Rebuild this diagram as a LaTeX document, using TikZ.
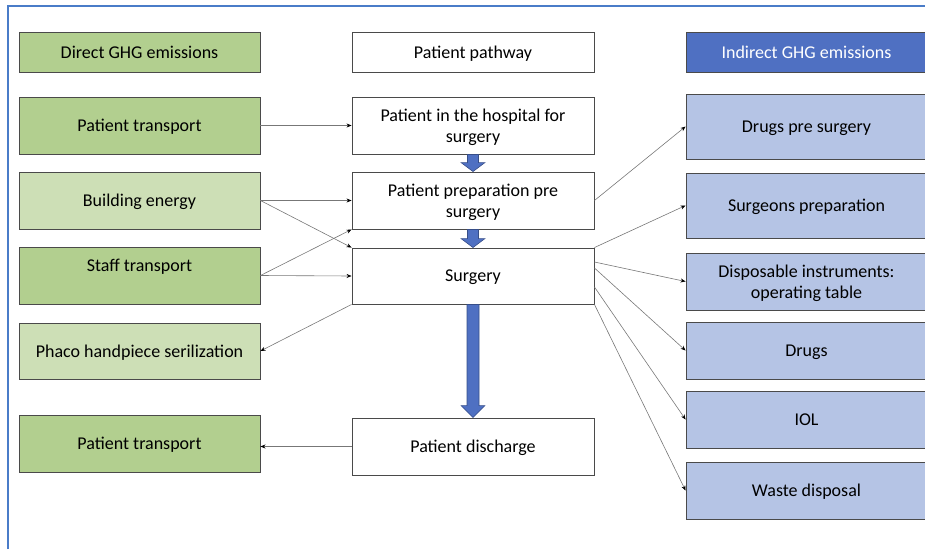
\documentclass[tikz,border=0pt]{standalone}
\usepackage{fontspec}
\setmainfont{Carlito}
\usetikzlibrary{arrows.meta,calc}
\definecolor{gdark}{HTML}{B2CF8F}
\definecolor{glight}{HTML}{CDDFB6}
\definecolor{bdark}{HTML}{4F70C2}
\definecolor{blight}{HTML}{B5C4E5}
\definecolor{frameblue}{HTML}{4A7CC8}
\definecolor{boxline}{HTML}{4A4A4A}
\definecolor{linkgray}{HTML}{777777}
\tikzset{
  box/.style={draw=boxline, line width=0.9pt, rectangle, inner sep=0pt, align=center,
    font=\fontsize{18}{21}\selectfont, text=black, text depth=0pt},
  lbox/.style={box, minimum width=241pt},
  mbox/.style={box, minimum width=242pt, fill=white},
  rbox/.style={box, minimum width=241pt},
  link/.style={draw=linkgray, line width=0.6pt, -{Stealth[length=5pt,width=4pt,color=black]}},
  blockarrow/.style={fill=bdark, draw=bdark!70!black, line width=0.6pt}
}
\begin{document}
\begin{tikzpicture}[x=1pt,y=-1pt]
\useasboundingbox (0,0) rectangle (925,549);
% frame
\draw[frameblue, line width=1.4pt] (8,549) -- (8,6) -- (930,6);
% left column
\node[lbox, fill=gdark, minimum height=40pt] (dir) at (139.5,52) {Direct GHG emissions};
\node[lbox, fill=gdark, minimum height=57pt] (pt1) at (139.5,125.5) {Patient transport};
\node[lbox, fill=glight, minimum height=57pt] (bld) at (139.5,200.5) {Building energy};
\node[lbox, fill=gdark, minimum height=57pt] (stf) at (139.5,275.5) {Staff transport\\\mbox{}};
\node[lbox, fill=glight, minimum height=56pt] (pha) at (139.5,351) {Phaco handpiece serilization};
\node[lbox, fill=gdark, minimum height=57pt] (pt2) at (139.5,443.5) {Patient transport};
% middle column
\node[mbox, minimum height=40pt] (pth) at (473,52) {Patient pathway};
\node[mbox, minimum height=57pt] (hos) at (473,125.5) {Patient in the hospital for\\surgery};
\node[mbox, minimum height=57pt] (prp) at (473,200.5) {Patient preparation pre\\surgery};
\node[mbox, minimum height=56pt] (sur) at (473,276) {Surgery};
\node[mbox, minimum height=57pt] (dis) at (473,446.5) {Patient discharge};
% right column
\node[rbox, fill=bdark, text=white, minimum height=40pt] (ind) at (806.5,52) {Indirect GHG emissions};
\node[rbox, fill=blight, minimum height=65pt] (dps) at (806.5,126.5) {Drugs pre surgery};
\node[rbox, fill=blight, minimum height=65pt] (sgp) at (806.5,205.5) {Surgeons preparation};
\node[rbox, fill=blight, minimum height=57pt] (dsp) at (806.5,281.5) {Disposable instruments:\\operating table};
\node[rbox, fill=blight, minimum height=57pt] (drg) at (806.5,350.5) {Drugs};
\node[rbox, fill=blight, minimum height=57pt] (iol) at (806.5,419.5) {IOL};
\node[rbox, fill=blight, minimum height=57pt] (wst) at (806.5,490.5) {Waste disposal};
% block arrows
\path[blockarrow] let \p1=(hos.south), \p2=(prp.north) in
  (\x1-5.5pt,\y1) -- (\x1-5.5pt,\y2+9pt) -- (\x1-12pt,\y2+9pt) -- (\x1,\y2) -- (\x1+12pt,\y2+9pt) -- (\x1+5.5pt,\y2+9pt) -- (\x1+5.5pt,\y1) -- cycle;
\path[blockarrow] let \p1=(prp.south), \p2=(sur.north) in
  (\x1-5.5pt,\y1) -- (\x1-5.5pt,\y2+9pt) -- (\x1-12pt,\y2+9pt) -- (\x1,\y2) -- (\x1+12pt,\y2+9pt) -- (\x1+5.5pt,\y2+9pt) -- (\x1+5.5pt,\y1) -- cycle;
\path[blockarrow] let \p1=(sur.south), \p2=(dis.north) in
  (\x1-6pt,\y1) -- (\x1-6pt,\y2+12pt) -- (\x1-12pt,\y2+12pt) -- (\x1,\y2) -- (\x1+12pt,\y2+12pt) -- (\x1+6pt,\y2+12pt) -- (\x1+6pt,\y1) -- cycle;
% thin connectors, left side
\draw[link] (pt1.east) -- (hos.west);
\draw[link] (bld.east) -- (prp.west);
\draw[link] (bld.east) -- (sur.north west);
\draw[link] (stf.east) -- (prp.south west);
\draw[link] (stf.east) -- (sur.west);
\draw[link] (sur.south west) -- (pha.east);
\draw[link] (dis.west) -- (dis.west -| pt2.east);
% thin connectors, right side
\draw[link] (prp.east) -- (dps.west);
\draw[link] (sur.north east) -- (sgp.west);
\draw[link] ([yshift=14pt]sur.east) -- (dsp.west);
\draw[link] ([yshift=8pt]sur.east) -- (drg.west);
\draw[link] ([yshift=-11pt]sur.east) -- (iol.west);
\draw[link] (sur.south east) -- (wst.west);
\end{tikzpicture}
\end{document}
